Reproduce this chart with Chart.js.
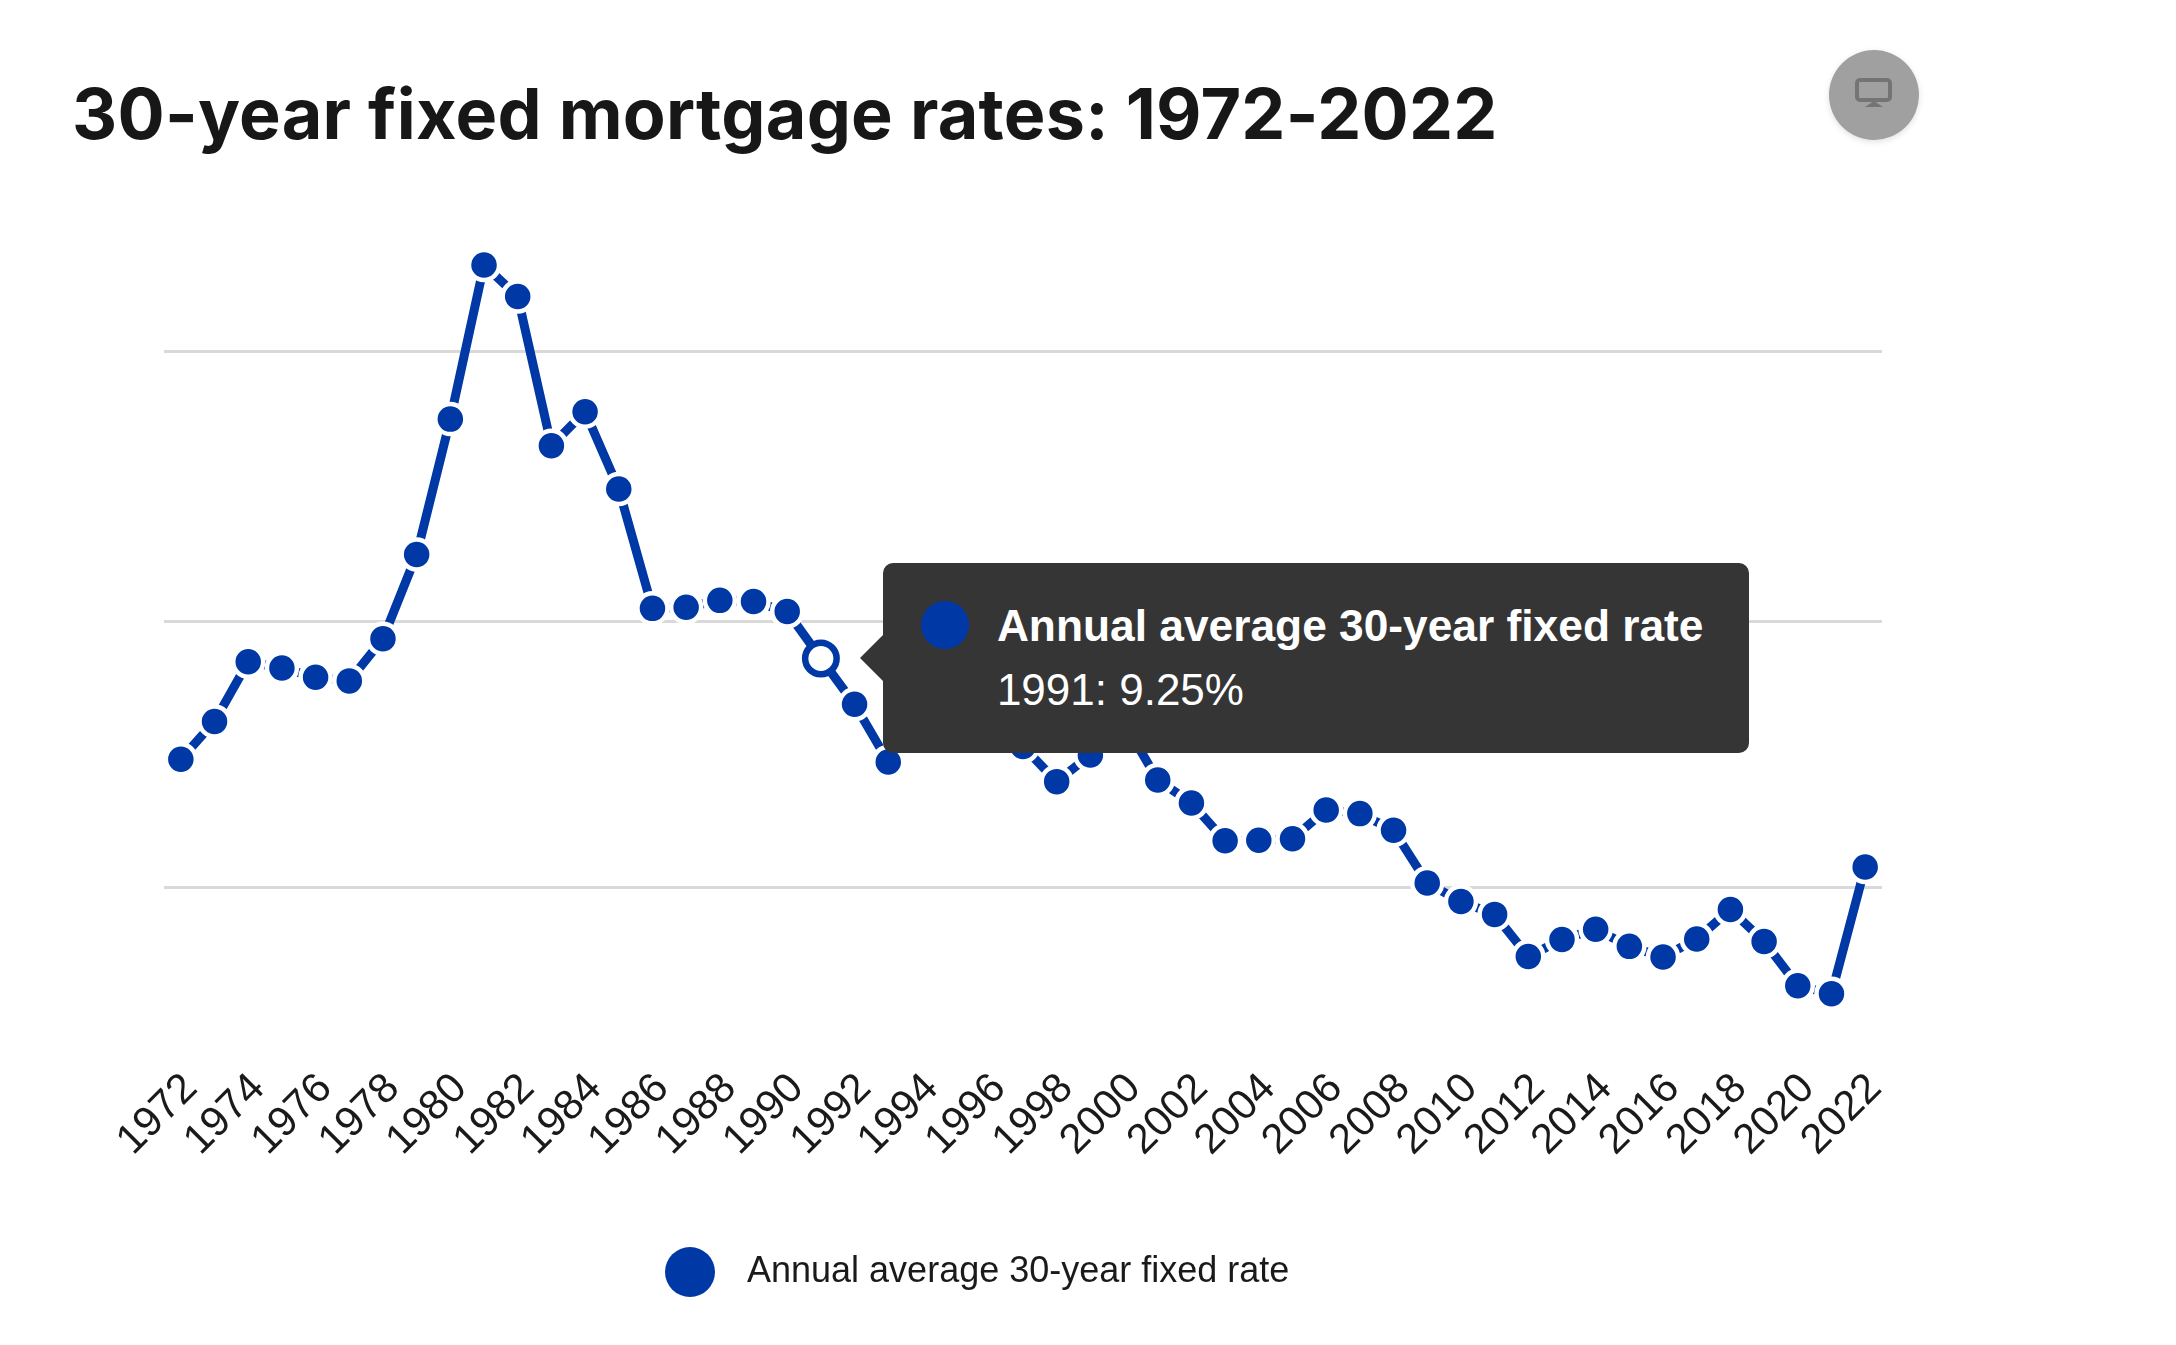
<!DOCTYPE html>
<html>
<head>
<meta charset="utf-8">
<title>30-year fixed mortgage rates: 1972-2022</title>
<script src="https://cdn.jsdelivr.net/npm/chart.js@4"></script>
<style>
  html, body { margin: 0; padding: 0; background: #fff; overflow: hidden; }
  body { width: 2176px; height: 1345px; position: relative; font-family: "Liberation Sans", Arial, sans-serif; color: #1a1a1a; }
  h1 { position: absolute; left: 72px; top: 72px; margin: 0; font: 700 70px/84px Inter, sans-serif; letter-spacing: .25px; white-space: nowrap; color: #171717; }
  #wrap { position: absolute; left: 0; top: 0; width: 2176px; height: 1345px; }
  #btn { position: absolute; left: 1829px; top: 50px; width: 90px; height: 90px; border-radius: 50%; background: #a0a0a0; box-shadow: 0 2px 6px rgba(0,0,0,.12); }
  #btn svg { position: absolute; left: 26px; top: 28px; }
  #legend { position: absolute; left: 665px; top: 1245px; display: flex; align-items: center; font-size: 36px; line-height: 50px; }
  #legend i { width: 50px; height: 50px; border-radius: 50%; margin-right: 32px; position: relative; top: 2px; }
  #tip { position: absolute; display: none; box-sizing: border-box; width: 866px; height: 190px; background: #353535; border-radius: 10px; color: #fff; font-size: 44px; }
  #tip:before { content: ""; position: absolute; left: -23px; top: 72px; border-style: solid; border-width: 23px 23px 23px 0; border-color: transparent #353535 transparent transparent; }
  #tip i { position: absolute; left: 38px; top: 38px; width: 48px; height: 48px; border-radius: 50%; }
  #tip b { position: absolute; left: 114px; top: 38px; line-height: 50px; white-space: nowrap; font-size: 44.3px; }
  #tip span { position: absolute; left: 114px; top: 102px; line-height: 50px; white-space: nowrap; }
</style>
</head>
<body>
<h1 id="title"></h1>
<div id="wrap"><canvas id="rates"></canvas></div>
<div id="btn">
  <svg width="38" height="30" viewBox="0 0 38 30"><rect x="2" y="2" width="33" height="20" rx="3" fill="none" stroke="#747474" stroke-width="4"/><path d="M10 29 L19 23 L28 29 Z" fill="#747474"/></svg>
</div>
<div id="legend"></div>
<div id="tip"><i></i><b></b><span></span></div>
<script>
const titleText = "30-year fixed mortgage rates: 1972-2022";
const seriesName = "Annual average 30-year fixed rate";
const blue = "#0039a6";

const years = [1972, 1973, 1974, 1975, 1976, 1977, 1978, 1979, 1980, 1981,
  1982, 1983, 1984, 1985, 1986, 1987, 1988, 1989, 1990, 1991,
  1992, 1993, 1994, 1995, 1996, 1997, 1998, 1999, 2000, 2001,
  2002, 2003, 2004, 2005, 2006, 2007, 2008, 2009, 2010, 2011,
  2012, 2013, 2014, 2015, 2016, 2017, 2018, 2019, 2020, 2021, 2022];
const rates = [7.36, 8.07, 9.19, 9.07, 8.9, 8.83, 9.62, 11.2, 13.74, 16.63,
  16.04, 13.24, 13.88, 12.43, 10.19, 10.21, 10.34, 10.32, 10.13, 9.25,
  8.39, 7.31, 8.38, 7.93, 7.81, 7.6, 6.94, 7.44, 8.05, 6.97,
  6.54, 5.83, 5.84, 5.87, 6.41, 6.34, 6.03, 5.04, 4.69, 4.45,
  3.66, 3.98, 4.17, 3.85, 3.65, 3.99, 4.54, 3.94, 3.11, 2.96, 5.34];
// the gridlines have no labels, these are where they sit in the picture
const gridValues = [4.95, 9.94, 15];
const hoverYear = 1991;

document.getElementById("title").textContent = titleText;
document.getElementById("legend").innerHTML = `<i style="background:${blue}"></i>${seriesName}`;

const tip = document.getElementById("tip");
tip.querySelector("i").style.background = blue;

function externalTip(context) {
  const t = context.tooltip;
  if (t.opacity === 0) { tip.style.display = "none"; return; }
  const p = t.dataPoints[0];
  tip.querySelector("b").textContent = p.dataset.label;
  tip.querySelector("span").textContent = `${p.label}: ${p.raw}%`;
  tip.style.display = "block";
  tip.style.left = (t.caretX + 62) + "px";
  tip.style.top = (t.caretY - 95) + "px";
}

const chart = new Chart(document.getElementById("rates"), {
  type: "line",
  data: {
    labels: years,
    datasets: [{
      label: seriesName,
      data: rates,
      borderColor: blue,
      borderWidth: 9,
      backgroundColor: blue,
      pointRadius: 15,
      pointBorderWidth: 4.5,
      pointBorderColor: "#fff",
      pointBackgroundColor: blue,
      pointHoverRadius: 15.75,
      pointHoverBorderWidth: 6.5,
      pointHoverBorderColor: blue,
      pointHoverBackgroundColor: "#fff",
      tension: 0
    }]
  },
  options: {
    responsive: true,
    maintainAspectRatio: false,
    animation: false,
    layout: { padding: { left: 164, right: 294, top: 192, bottom: 0 } },
    plugins: {
      legend: { display: false },
      tooltip: { enabled: false, external: externalTip }
    },
    scales: {
      x: {
        offset: true,
        afterFit: axis => { axis.height = 300; },
        grid: { display: false },
        border: { display: false },
        ticks: {
          autoSkip: false,
          maxRotation: 45,
          minRotation: 45,
          padding: 11,
          labelOffset: 10,
          color: "#1a1a1a",
          font: { family: "Liberation Sans", size: 42 },
          callback: function (value, index) { return index % 2 === 0 ? this.getLabelForValue(value) : ""; }
        }
      },
      y: {
        min: 2,
        max: 18,
        afterBuildTicks: axis => { axis.ticks = gridValues.map(v => ({ value: v })); },
        afterFit: axis => { axis.width = 0; },
        border: { display: false },
        grid: { color: "#d9d9d9", lineWidth: 3, drawTicks: false },
        ticks: { display: false }
      }
    }
  }
});

// hold the hover state on 1991 like the screenshot
const hovered = [{ datasetIndex: 0, index: years.indexOf(hoverYear) }];
chart.setActiveElements(hovered);
chart.tooltip.setActiveElements(hovered, { x: 0, y: 0 });
chart.update();
</script>
</body>
</html>
